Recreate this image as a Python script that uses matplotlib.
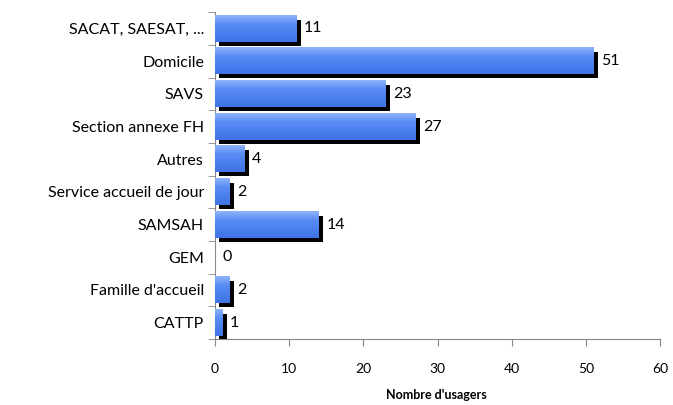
import matplotlib
matplotlib.use("Agg")
import matplotlib.pyplot as plt
import numpy as np
from matplotlib import patheffects as pe
from matplotlib.colors import LinearSegmentedColormap

categories = ["SACAT, SAESAT, ...", "Domicile", "SAVS", "Section annexe FH", "Autres",
              "Service accueil de jour", "SAMSAH", "GEM", "Famille d'accueil", "CATTP"]
values = [11, 51, 23, 27, 4, 2, 14, 0, 2, 1]
xticks = [0, 10, 20, 30, 40, 50, 60]

plt.rcParams['font.family'] = ['Lato', 'DejaVu Sans']

fig = plt.figure(figsize=(6.73, 4.05), dpi=100)
ax = fig.add_axes([0.3195, 0.163, 0.6615, 0.807])

y = np.arange(len(categories))
h = 0.8
bars = ax.barh(y, values, height=h, color='#4A7FEF', edgecolor='none', zorder=2,
               path_effects=[pe.SimplePatchShadow(offset=(3, -3), shadow_rgbFace='black', alpha=1.0), pe.Normal()])

cmap = LinearSegmentedColormap.from_list('b', ['#8EB3F9', '#5A8CF5', '#4A7FEF', '#3F73E6'])
grad = np.linspace(0, 1, 64).reshape(-1, 1)
for yi, v in zip(y, values):
    if v > 0:
        ax.imshow(grad, cmap=cmap, aspect='auto', extent=(0, v, yi + h / 2, yi - h / 2),
                  zorder=3, interpolation='bilinear')
    ax.text(v + 1.0, yi, str(v), va='center', ha='left', fontsize=11.5, color='black', zorder=4)

ax.set_xlim(0, 60)
ax.set_ylim(len(categories) - 0.5, -0.5)
ax.set_yticks(y)
ax.set_yticklabels(categories, fontsize=11.5)
ax.set_xticks(xticks)
ax.set_xticklabels([str(t) for t in xticks], fontsize=10)
ax.tick_params(axis='x', direction='out', length=5, color='#888888', pad=12)
ax.set_yticks(np.arange(-0.5, len(categories), 1.0), minor=True)
ax.tick_params(axis='y', which='minor', length=5, color='#888888')
ax.tick_params(axis='y', which='major', length=0, pad=8)
for s in ['top', 'right']:
    ax.spines[s].set_visible(False)
for s in ['left', 'bottom']:
    ax.spines[s].set_color('#888888')
fig.text(0.649, 0.025, "Nombre d'usagers", fontsize=9, fontweight='bold',
         ha='center', va='center')

fig.savefig('out.png', dpi=100)
